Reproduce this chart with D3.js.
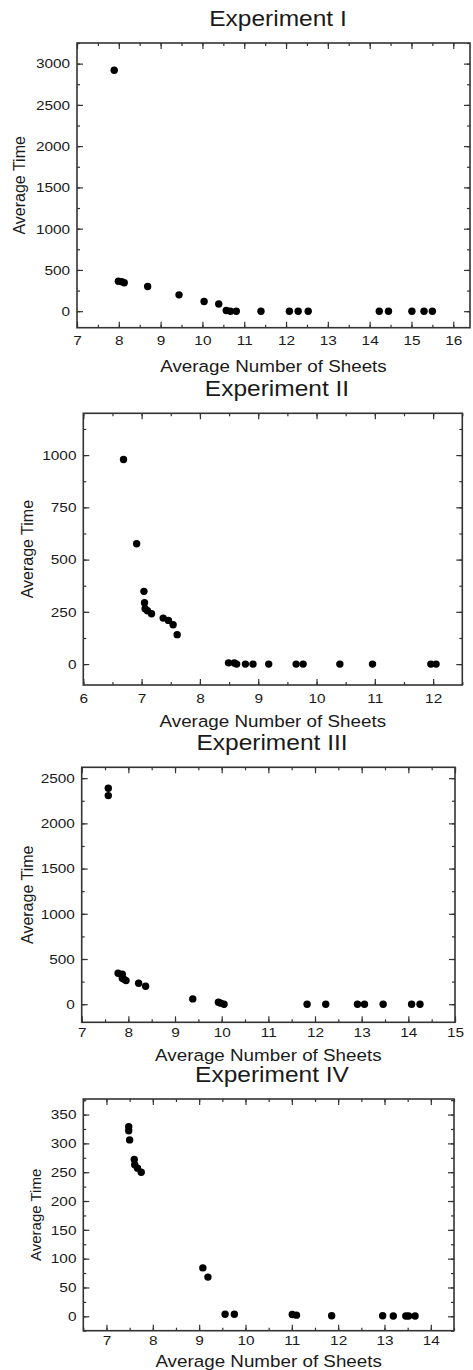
<!DOCTYPE html>
<html>
<head>
<meta charset="utf-8">
<script src="https://cdn.jsdelivr.net/npm/d3@7"></script>
<style>
  body { margin: 0; background: #fff; }
  svg text { font-family: "Liberation Sans", Arial, sans-serif; fill: #1a1a1a; }
</style>
</head>
<body>
<div id="chart"></div>
<script>
// values
let exp1X = [7.89, 7.99, 8.07, 8.13, 8.69, 9.44, 10.04, 10.39, 10.57, 10.67, 10.81, 11.40, 12.08, 12.29, 12.53, 14.23, 14.45, 15.01, 15.30, 15.50];
let exp1Y = [2920, 362, 358, 345, 299, 198, 117, 88, 8, 0, 0, 0, 0, 0, 0, 0, 0, 0, 0, 0];

let exp2X = [6.69, 6.915, 7.04, 7.05, 7.06, 7.10, 7.17, 7.37, 7.46, 7.54, 7.61, 8.49, 8.59, 8.63, 8.78, 8.91, 9.18, 9.65, 9.77, 10.40, 10.96, 11.96, 12.05];
let exp2Y = [979, 576, 348, 294, 265, 255, 241, 220, 209, 188, 141, 6, 5, 0, 0, 0, 0, 0, 0, 0, 0, 0, 0];

let exp3X = [7.57, 7.57, 7.78, 7.87, 7.87, 7.91, 7.95, 8.22, 8.37, 9.38, 9.93, 9.98, 10.05, 11.83, 12.23, 12.91, 13.06, 13.46, 14.07, 14.25];
let exp3Y = [2389, 2307, 343, 332, 288, 275, 261, 232, 199, 59, 22, 12, 0, 0, 0, 0, 0, 0, 0, 0];

let exp4X = [7.48, 7.48, 7.50, 7.60, 7.61, 7.67, 7.75, 9.08, 9.19, 9.56, 9.76, 11.01, 11.10, 11.86, 12.96, 13.19, 13.46, 13.52, 13.66];
let exp4Y = [329, 322, 306, 272, 263, 257, 250, 84, 68, 3.5, 3.5, 3, 2, 1, 1, 0.5, 0.5, 0.5, 0.5];

let titles = ["Experiment I", "Experiment II", "Experiment III", "Experiment IV"];
let xLabel = "Average Number of Sheets";
let yLabel = "Average Time";

let xDomains = [[7, 16.4], [6, 12.5], [7, 15], [6.5, 14.5]];
let yDomains = [[-200, 3250], [-100, 1200], [-200, 2620], [-25, 377]];
let xTickValues = [d3.range(7, 16.01, 1), d3.range(6, 12.01, 1), d3.range(7, 15.01, 1), d3.range(7, 14.01, 1)];
let yTickValues = [d3.range(0, 3001, 500), d3.range(0, 1001, 250), d3.range(0, 2501, 500), d3.range(0, 351, 50)];
let yMinorStep = [250, 125, 250, 25];

// frame of each panel in page pixels
let frames = [
    { l: 77, t: 43, r: 470, b: 327.7, titleX: 278, yLabX: 19, tickDy: 17, labDy: 44 },
    { l: 83.3, t: 413.3, r: 462.3, b: 685, titleX: 277, yLabX: 27, tickDy: 18, labDy: 42 },
    { l: 81.7, t: 767.3, r: 455, b: 1022.3, titleX: 272, yLabX: 27, tickDy: 15, labDy: 39 },
    { l: 83.3, t: 1099, r: 454, b: 1330.7, titleX: 272, yLabX: 36, tickDy: 14.5, labDy: 36 }
];

// the source picture is a little stretched sideways
let stretch = 1.14;

let svg = d3.select("#chart").append("svg").attr("width", 473).attr("height", 1370);

function wideText(g, x, y, size, str) {
    return g.append("text")
        .attr("transform", `translate(${x},${y}) scale(${stretch},1)`)
        .attr("text-anchor", "middle")
        .attr("font-size", size)
        .text(str);
}

function drawPanel(i, xs, ys) {
    let f = frames[i];
    let x = d3.scaleLinear().domain(xDomains[i]).range([f.l, f.r]);
    let y = d3.scaleLinear().domain(yDomains[i]).range([f.b, f.t]);
    let g = svg.append("g");

    let xMinor = d3.range(Math.ceil(xDomains[i][0] * 2) / 2, xDomains[i][1] + 0.001, 0.5);
    let yMinor = d3.range(Math.ceil(yDomains[i][0] / yMinorStep[i]) * yMinorStep[i], yDomains[i][1] + 0.001, yMinorStep[i]);

    // minor ticks on all four sides, pointing inward
    g.append("g").attr("transform", `translate(0,${f.b})`)
        .call(d3.axisBottom(x).tickValues(xMinor).tickSize(-3).tickFormat(""));
    g.append("g").attr("transform", `translate(0,${f.t})`)
        .call(d3.axisTop(x).tickValues(xMinor).tickSize(-3).tickFormat(""));
    g.append("g").attr("transform", `translate(${f.l},0)`)
        .call(d3.axisLeft(y).tickValues(yMinor).tickSize(-3).tickFormat(""));
    g.append("g").attr("transform", `translate(${f.r},0)`)
        .call(d3.axisRight(y).tickValues(yMinor).tickSize(-3).tickFormat(""));

    // major ticks
    g.append("g").attr("class", "xax").attr("transform", `translate(0,${f.b})`)
        .call(d3.axisBottom(x).tickValues(xTickValues[i]).tickSize(-6).tickPadding(f.tickDy - 4).tickFormat(d3.format("d")));
    g.append("g").attr("transform", `translate(0,${f.t})`)
        .call(d3.axisTop(x).tickValues(xTickValues[i]).tickSize(-6).tickFormat(""));
    g.append("g").attr("class", "yax").attr("transform", `translate(${f.l},0)`)
        .call(d3.axisLeft(y).tickValues(yTickValues[i]).tickSize(-6).tickPadding(6).tickFormat(d3.format("d")));
    g.append("g").attr("transform", `translate(${f.r},0)`)
        .call(d3.axisRight(y).tickValues(yTickValues[i]).tickSize(-6).tickFormat(""));

    g.selectAll(".domain").remove();
    g.selectAll(".tick line").attr("stroke", "#333").attr("stroke-width", 1.2);
    g.selectAll(".xax .tick text").attr("font-size", 13.5).attr("dy", "0.3em")
        .attr("fill", "#1a1a1a").attr("transform", `scale(${stretch},1)`);
    g.selectAll(".yax .tick text").attr("font-size", 13.5)
        .attr("fill", "#1a1a1a").attr("transform", `scale(${stretch},1)`);

    g.append("rect")
        .attr("x", f.l).attr("y", f.t)
        .attr("width", f.r - f.l).attr("height", f.b - f.t)
        .attr("fill", "none").attr("stroke", "#333").attr("stroke-width", 1.6);

    g.selectAll(".dot").data(xs.map((v, k) => [v, ys[k]])).enter().append("circle")
        .attr("cx", d => x(d[0]))
        .attr("cy", d => y(d[1]))
        .attr("r", 3.7)
        .attr("fill", "#000");

    wideText(g, f.titleX, f.t - 17, 21.5, titles[i]);
    wideText(g, (f.l + f.r) / 2, f.b + f.labDy, 16.5, xLabel);

    g.append("text")
        .attr("transform", `translate(${f.yLabX},${(f.t + f.b) / 2}) rotate(-90)`)
        .attr("text-anchor", "middle")
        .attr("dy", "0.35em")
        .attr("font-size", i == 3 ? 15 : 16)
        .text(yLabel);
}

drawPanel(0, exp1X, exp1Y);
drawPanel(1, exp2X, exp2Y);
drawPanel(2, exp3X, exp3Y);
drawPanel(3, exp4X, exp4Y);
</script>
</body>
</html>
